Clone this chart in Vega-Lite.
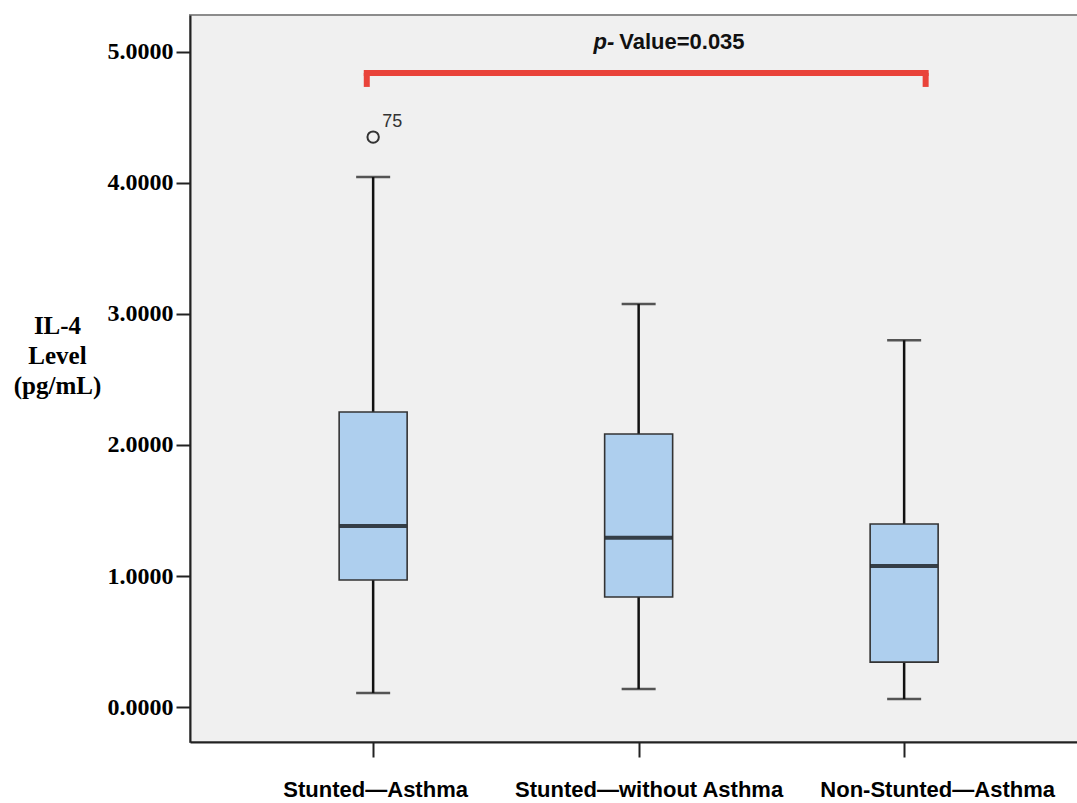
{
  "$schema": "https://vega.github.io/schema/vega-lite/v6.json",
  "width": 888,
  "height": 727,
  "autosize": {"type": "none"},
  "padding": {"left": 190, "top": 15, "right": 0, "bottom": 61},
  "background": "white",
  "config": {
    "view": {"fill": "#f0f0f0", "stroke": "#8c8c8c", "strokeWidth": 2},
    "axis": {"grid": false}
  },
  "datasets": {
    "boxes": [
      {"group": "Stunted—Asthma", "x": 1, "lower": 0.107, "q1": 0.969, "median": 1.382, "q3": 2.252, "upper": 4.046},
      {"group": "Stunted—without Asthma", "x": 2, "lower": 0.137, "q1": 0.84, "median": 1.292, "q3": 2.084, "upper": 3.076},
      {"group": "Non-Stunted—Asthma", "x": 3, "lower": 0.061, "q1": 0.343, "median": 1.076, "q3": 1.397, "upper": 2.8}
    ],
    "outliers": [
      {"x": 1, "value": 4.35, "case": "75"}
    ],
    "bracketH": [
      {"x": 0.976, "x2": 3.081, "y": 4.84}
    ],
    "bracketV": [
      {"x": 0.976, "y": 4.733, "y2": 4.84},
      {"x": 3.081, "y": 4.733, "y2": 4.84}
    ],
    "note": [
      {"x": 1.923, "y": 5.023, "p": "p-", "rest": "Value=0.035"}
    ]
  },
  "layer": [
    {
      "data": {"name": "boxes"},
      "mark": {"type": "rule", "color": "#111111", "strokeWidth": 2.5},
      "encoding": {
        "x": {
          "field": "x", "type": "quantitative",
          "scale": {"domain": [0.329, 3.636], "nice": false, "zero": false},
          "axis": {
            "values": [1, 2, 3],
            "labelExpr": "datum.value == 1 ? 'Stunted—Asthma' : datum.value == 2 ? 'Stunted—without Asthma' : 'Non-Stunted—Asthma'",
            "title": null,
            "labelFont": "Liberation Sans", "labelFontWeight": "bold", "labelFontSize": 22, "labelColor": "#000000",
            "labelLimit": 0,
            "labelOffset": {"condition": [{"test": "datum.value == 3", "value": 33}, {"test": "datum.value == 2", "value": 10}], "value": 2},
            "tickSize": 15, "tickWidth": 2, "tickColor": "#222222",
            "domainColor": "#222222", "domainWidth": 2,
            "labelPadding": 22, "labelFlush": false, "labelOverlap": false
          }
        },
        "y": {
          "field": "lower", "type": "quantitative",
          "scale": {"domain": [-0.267, 5.282], "nice": false, "zero": false},
          "axis": {
            "values": [0, 1, 2, 3, 4, 5],
            "format": ".4f",
            "labelFont": "Liberation Serif", "labelFontWeight": "bold", "labelFontSize": 24, "labelColor": "#000000",
            "tickSize": 14, "tickWidth": 2, "tickColor": "#222222",
            "domainColor": "#222222", "domainWidth": 2,
            "labelPadding": 3,
            "title": ["IL-4", "Level", "(pg/mL)"],
            "titleFont": "Liberation Serif", "titleFontSize": 25, "titleFontWeight": "bold", "titleColor": "#000000",
            "titleAngle": 0, "titleAlign": "center", "titleBaseline": "top",
            "titleX": -133, "titleY": 298, "titleLineHeight": 30
          }
        },
        "y2": {"field": "upper"}
      }
    },
    {
      "data": {"name": "boxes"},
      "mark": {"type": "tick", "orient": "horizontal", "size": 34, "thickness": 2.5, "color": "#111111"},
      "encoding": {
        "x": {"field": "x", "type": "quantitative"},
        "y": {"field": "lower", "type": "quantitative"}
      }
    },
    {
      "data": {"name": "boxes"},
      "mark": {"type": "tick", "orient": "horizontal", "size": 34, "thickness": 2.5, "color": "#111111"},
      "encoding": {
        "x": {"field": "x", "type": "quantitative"},
        "y": {"field": "upper", "type": "quantitative"}
      }
    },
    {
      "data": {"name": "boxes"},
      "mark": {"type": "bar", "orient": "vertical", "size": 68, "fill": "#aecfee", "stroke": "#333333", "strokeWidth": 1.6, "opacity": 1},
      "encoding": {
        "x": {"field": "x", "type": "quantitative"},
        "y": {"field": "q1", "type": "quantitative"},
        "y2": {"field": "q3"}
      }
    },
    {
      "data": {"name": "boxes"},
      "mark": {"type": "tick", "orient": "horizontal", "size": 67, "thickness": 4, "color": "#000000"},
      "encoding": {
        "x": {"field": "x", "type": "quantitative"},
        "y": {"field": "median", "type": "quantitative"}
      }
    },
    {
      "data": {"name": "outliers"},
      "mark": {"type": "point", "shape": "circle", "filled": false, "size": 130, "stroke": "#333333", "strokeWidth": 2, "opacity": 1},
      "encoding": {
        "x": {"field": "x", "type": "quantitative"},
        "y": {"field": "value", "type": "quantitative"}
      }
    },
    {
      "data": {"name": "outliers"},
      "mark": {"type": "text", "align": "left", "baseline": "alphabetic", "dx": 9, "dy": -10, "font": "Liberation Sans", "fontSize": 18, "color": "#333333"},
      "encoding": {
        "x": {"field": "x", "type": "quantitative"},
        "y": {"field": "value", "type": "quantitative"},
        "text": {"field": "case"}
      }
    },
    {
      "data": {"name": "bracketH"},
      "mark": {"type": "rule", "color": "#e9433a", "strokeWidth": 6, "strokeCap": "square"},
      "encoding": {
        "x": {"field": "x", "type": "quantitative"},
        "x2": {"field": "x2"},
        "y": {"field": "y", "type": "quantitative"}
      }
    },
    {
      "data": {"name": "bracketV"},
      "mark": {"type": "rule", "color": "#e9433a", "strokeWidth": 6},
      "encoding": {
        "x": {"field": "x", "type": "quantitative"},
        "y": {"field": "y", "type": "quantitative"},
        "y2": {"field": "y2"}
      }
    },
    {
      "data": {"name": "note"},
      "mark": {"type": "text", "align": "right", "baseline": "alphabetic", "dx": -4, "font": "Liberation Sans", "fontSize": 22, "fontWeight": "bold", "fontStyle": "italic", "color": "#111111"},
      "encoding": {
        "x": {"field": "x", "type": "quantitative"},
        "y": {"field": "y", "type": "quantitative"},
        "text": {"field": "p"}
      }
    },
    {
      "data": {"name": "note"},
      "mark": {"type": "text", "align": "left", "baseline": "alphabetic", "dx": 1, "font": "Liberation Sans", "fontSize": 22, "fontWeight": "bold", "color": "#111111"},
      "encoding": {
        "x": {"field": "x", "type": "quantitative"},
        "y": {"field": "y", "type": "quantitative"},
        "text": {"field": "rest"}
      }
    }
  ]
}
